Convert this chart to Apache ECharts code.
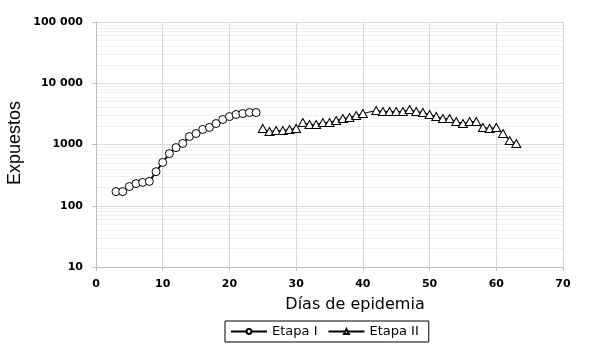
<!DOCTYPE html>
<html><head><meta charset="utf-8">
<script src="https://cdn.jsdelivr.net/npm/echarts@6/dist/echarts.min.js"></script>
<style>html,body{margin:0;padding:0;background:#fff}#c{width:596px;height:356px}</style>
</head><body><div id="c"></div>
<script>
var daysI = [3,4,5,6,7,8,9,10,11,12,13,14,15,16,17,18,19,20,21,22,23,24];
var valsI = [170,170,206,230,240,250,360,510,710,890,1040,1350,1510,1760,1900,2200,2560,2860,3090,3200,3330,3330];
var daysII = [25,26,27,28,29,30,31,32,33,34,35,36,37,38,39,40,42,43,44,45,46,47,48,49,50,51,52,53,54,55,56,57,58,59,60,61,62,63];
var valsII = [1830,1630,1690,1690,1760,1830,2290,2120,2120,2290,2290,2470,2660,2760,2980,3210,3590,3460,3460,3460,3460,3730,3460,3330,3090,2860,2660,2660,2370,2200,2370,2370,1900,1830,1900,1510,1160,1040];
var xTicks = [0,10,20,30,40,50,60,70];
var yTicks = {10:'10',100:'100',1000:'1000',10000:'10 000',100000:'100 000'};
var seriesNames = ['Etapa I','Etapa II'];

function pairs(xs, ys){ return xs.map(function(x,i){return [x, ys[i]];}); }

var chart = echarts.init(document.getElementById('c'));
chart.setOption({
  animation:false,
  backgroundColor:'#fff',
  grid:{left:96,right:33,top:22,bottom:89,containLabel:false},
  xAxis:{type:'value',min:xTicks[0],max:xTicks[xTicks.length-1],interval:10,
    axisLine:{lineStyle:{color:'#bfbfbf'}},
    axisTick:{show:true,length:4,lineStyle:{color:'#bfbfbf'}},
    axisLabel:{margin:12,color:'#000',fontFamily:'DejaVu Sans',fontWeight:'bold',fontSize:11},
    splitLine:{show:true,lineStyle:{color:'#d9d9d9'}}
  },
  yAxis:{type:'log',logBase:10,min:10,max:100000,
    axisLine:{show:true,lineStyle:{color:'#bfbfbf'}},
    axisTick:{show:true,length:4,lineStyle:{color:'#bfbfbf'}},
    axisLabel:{margin:13,color:'#000',fontFamily:'DejaVu Sans',fontWeight:'bold',fontSize:11,
      formatter:function(v){return yTicks[Math.round(v)]||String(v);}},
    splitLine:{show:true,lineStyle:{color:'#d9d9d9'}},
    minorTick:{show:false,splitNumber:9},
    minorSplitLine:{show:true,lineStyle:{color:'#f0f0f0'}}
  },
  legend:{data:seriesNames,left:225,top:321,orient:'horizontal',
    borderColor:'#000',borderWidth:1,padding:[4,10,4,5],itemGap:10,itemWidth:36,itemHeight:6,
    textStyle:{fontFamily:'DejaVu Sans',fontSize:13,color:'#000'}},
  graphic:[
    {type:'text',x:355,y:297,style:{text:'Días de epidemia',fontFamily:'DejaVu Sans',fontSize:16,fill:'#000',textAlign:'center'}},
    {type:'text',x:6,y:143,rotation:Math.PI/2,style:{text:'Expuestos',fontFamily:'Liberation Sans',fontSize:18,fill:'#000',textAlign:'center',textVerticalAlign:'top'}}
  ],
  series:[
    {name:seriesNames[0],type:'line',data:pairs(daysI,valsI),symbol:'circle',symbolSize:8,
      lineStyle:{color:'#000',width:1.8},itemStyle:{color:'#fff',borderColor:'#000',borderWidth:1},z:3},
    {name:seriesNames[1],type:'line',data:pairs(daysII,valsII),symbol:'triangle',symbolSize:[9,8],
      lineStyle:{color:'#000',width:1},itemStyle:{color:'#fff',borderColor:'#000',borderWidth:1},z:2}
  ]
});
</script></body></html>
